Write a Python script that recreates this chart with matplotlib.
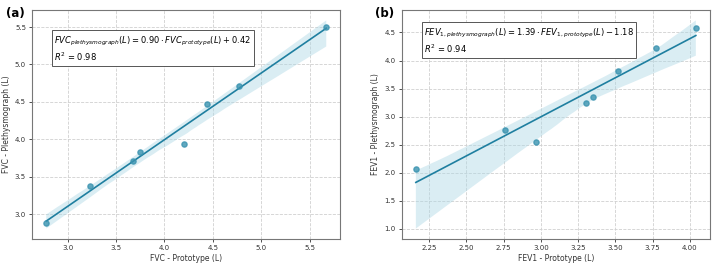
import numpy as np
import matplotlib
matplotlib.use("Agg")
import matplotlib.pyplot as plt
import seaborn as sns

# FVC values (L)
fvc_prototype = [2.78, 3.23, 3.68, 3.75, 4.20, 4.44, 4.77, 5.67]
fvc_pleth = [2.88, 3.38, 3.71, 3.83, 3.94, 4.47, 4.71, 5.50]

# FEV1 values (L)
fev1_prototype = [2.16, 2.76, 2.97, 3.30, 3.35, 3.52, 3.77, 4.04]
fev1_pleth = [2.06, 2.76, 2.55, 3.24, 3.35, 3.82, 4.22, 4.58]

fvc_text = (r"$FVC_{plethysmograph}(L) = 0.90 \cdot FVC_{prototype}(L) + 0.42$" "\n"
            r"$R^2$ = 0.98")
fev1_text = (r"$FEV_{1,plethysmograph}(L) = 1.39 \cdot FEV_{1,prototype}(L) - 1.18$" "\n"
             r"$R^2$ = 0.94")

plt.rcParams['font.size'] = 5.5
plt.rcParams['mathtext.fontset'] = 'dejavusans'

fig, (ax1, ax2) = plt.subplots(1, 2, figsize=(7.17, 2.7), dpi=100)
fig.subplots_adjust(left=0.045, right=0.99, top=0.963, bottom=0.115, wspace=0.2)

dot_color = '#3a93b0'
line_color = '#1f7fa0'


def draw_panel(ax, x, y, text, box_top, xlabel, ylabel, tag):
    sns.regplot(x=np.array(x), y=np.array(y), ax=ax, ci=95, seed=1, n_boot=1000,
                scatter_kws=dict(s=14, color=dot_color, zorder=3),
                line_kws=dict(color=line_color, lw=1.2))
    # lighten the confidence band
    for coll in ax.collections[1:]:
        coll.set_facecolor('#add8e6')
        coll.set_alpha(0.45)
    ax.grid(True, linestyle='--', color='#d0d0d0', linewidth=0.6)
    ax.set_axisbelow(True)
    for s in ax.spines.values():
        s.set_color('#777777')
        s.set_linewidth(0.8)
    ax.tick_params(colors='#333333', labelsize=5, length=2.5, width=0.6, pad=2)
    ax.set_xlabel(xlabel, fontsize=5.5, color='#333333', labelpad=2)
    ax.set_ylabel(ylabel, fontsize=5.5, color='#333333', labelpad=3)
    ax.text(0.072, box_top, text, transform=ax.transAxes, fontsize=6, va='top', ha='left',
            linespacing=1.25,
            bbox=dict(boxstyle='square,pad=0.3', facecolor='white', edgecolor='#555555', linewidth=0.7))
    ax.text(-0.025, 0.985, tag, transform=ax.transAxes, fontsize=8.5, fontweight='bold',
            va='center', ha='right')


draw_panel(ax1, fvc_prototype, fvc_pleth, fvc_text, 0.89,
           'FVC - Prototype (L)', 'FVC - Plethysmograph (L)', '(a)')
draw_panel(ax2, fev1_prototype, fev1_pleth, fev1_text, 0.925,
           'FEV1 - Prototype (L)', 'FEV1 - Plethysmograph (L)', '(b)')

ax1.set_xticks([3.0, 3.5, 4.0, 4.5, 5.0, 5.5])
ax1.set_yticks([3.0, 3.5, 4.0, 4.5, 5.0, 5.5])
ax2.set_xticks([2.25, 2.5, 2.75, 3.0, 3.25, 3.5, 3.75, 4.0])
ax2.set_yticks([1.0, 1.5, 2.0, 2.5, 3.0, 3.5, 4.0, 4.5])

fig.savefig('out.png', dpi=100)
